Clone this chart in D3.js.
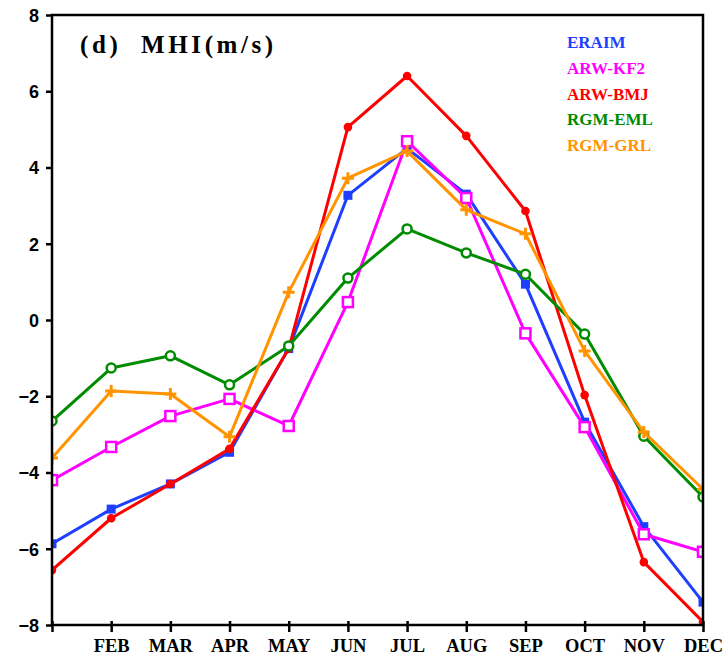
<!DOCTYPE html>
<html><head><meta charset="utf-8">
<script src="https://cdn.jsdelivr.net/npm/d3@7/dist/d3.min.js"></script>
<style>body{margin:0;background:#fff}svg{display:block}</style>
</head><body>
<svg id="chart" width="723" height="657"></svg>
<script>
const months = ["JAN","FEB","MAR","APR","MAY","JUN","JUL","AUG","SEP","OCT","NOV","DEC"];
const monthLabels = ["","FEB","MAR","APR","MAY","JUN","JUL","AUG","SEP","OCT","NOV","DEC"];
const yTicks = [-8,-6,-4,-2,0,2,4,6,8];
const seriesNames = ["ERAIM","ARW-KF2","ARW-BMJ","RGM-EML","RGM-GRL"];
const eraim  = [-5.87,-4.96,-4.30,-3.47,-0.75,3.27,4.50,3.30,0.94,-2.68,-5.42,-7.40];
const arwKF2 = [-4.20,-3.33,-2.52,-2.07,-2.78,0.47,4.69,3.20,-0.35,-2.81,-5.62,-6.08];
const arwBMJ = [-6.56,-5.20,-4.30,-3.38,-0.75,5.06,6.40,4.83,2.86,-1.97,-6.35,-7.92];
const rgmEML = [-2.65,-1.26,-0.94,-1.70,-0.68,1.10,2.39,1.76,1.20,-0.37,-3.05,-4.64];
const rgmGRL = [-3.62,-1.86,-1.94,-3.06,0.73,3.72,4.43,2.89,2.26,-0.81,-2.94,-4.44];
const colors = ["#1f3fff","#ff00ff","#ff0000","#008c00","#ff9400"];
const markers = ["fsquare","osquare","fcircle","ocircle","plus"];
const allSeries = [eraim, arwKF2, arwBMJ, rgmEML, rgmGRL];

const svg = d3.select("#chart");
const L = 52, R = 703, T = 15, B = 625;
const x = d3.scalePoint().domain(months).range([L, R]);
const y = d3.scaleLinear().domain([-8, 8]).range([B, T]);

svg.append("defs").append("clipPath").attr("id","clip")
  .append("rect").attr("x",L).attr("y",T).attr("width",R-L).attr("height",B-T);

const g = svg.append("g").attr("clip-path","url(#clip)");
const line = d3.line().x((d,i)=>x(months[i])).y(d=>y(d));

allSeries.forEach((s, k) => {
  const c = colors[k];
  g.append("path").datum(s).attr("d", line).attr("fill","none")
    .attr("stroke", c).attr("stroke-width", 3).attr("stroke-linejoin","round");
  const m = g.append("g");
  s.forEach((v, i) => {
    const cx = x(months[i]), cy = y(v);
    const t = markers[k];
    if (t === "fsquare") m.append("rect").attr("x",cx-4.5).attr("y",cy-4.5).attr("width",9).attr("height",9).attr("fill",c);
    else if (t === "osquare") m.append("rect").attr("x",cx-5).attr("y",cy-5).attr("width",10).attr("height",10).attr("fill","#fff").attr("stroke",c).attr("stroke-width",2.5);
    else if (t === "fcircle") m.append("circle").attr("cx",cx).attr("cy",cy).attr("r",4.3).attr("fill",c);
    else if (t === "ocircle") m.append("circle").attr("cx",cx).attr("cy",cy).attr("r",4.5).attr("fill","#fff").attr("stroke",c).attr("stroke-width",2.5);
    else m.append("path").attr("d",`M${cx-6},${cy}H${cx+6}M${cx},${cy-6}V${cy+6}`).attr("stroke",c).attr("stroke-width",3);
  });
});

// frame
svg.append("rect").attr("x",L).attr("y",T).attr("width",R-L).attr("height",B-T)
  .attr("fill","none").attr("stroke","#000").attr("stroke-width",2.5);

// y axis
const yAxis = d3.axisLeft(y).tickValues(yTicks).tickSize(6).tickPadding(7)
  .tickFormat(d => d < 0 ? "\u2212" + Math.abs(d) : d);
const ya = svg.append("g").attr("transform",`translate(${L},0)`).call(yAxis);
ya.select(".domain").remove();
ya.selectAll("line").attr("stroke","#000").attr("stroke-width",2.5);
ya.selectAll("text").attr("font-family","Liberation Sans, Arial, sans-serif")
  .attr("font-weight","bold").attr("font-size",18).attr("fill","#000").attr("dy","0.35em");

// x axis
const xAxis = d3.axisBottom(x).tickFormat((d,i)=>monthLabels[i]).tickSize(7).tickPadding(7);
const xa = svg.append("g").attr("transform",`translate(0,${B})`).call(xAxis);
xa.select(".domain").remove();
xa.selectAll("line").attr("stroke","#000").attr("stroke-width",2.5).attr("y1",-4);
xa.selectAll("text").attr("font-family","Liberation Serif, Times New Roman, serif")
  .attr("font-weight","bold").attr("font-size",18.5).attr("fill","#000");

// title
svg.append("text").attr("x",80).attr("y",53).text("(d)  MHI(m/s)")
  .attr("font-family","Liberation Serif, Times New Roman, serif").attr("font-weight","bold")
  .attr("font-size",25).attr("letter-spacing",3.6).attr("fill","#000")
  .style("white-space","pre");

// legend
seriesNames.forEach((n, k) => {
  svg.append("text").attr("x",567).attr("y",48 + k*25.8).text(n)
    .attr("font-family","Liberation Serif, Times New Roman, serif").attr("font-weight","bold")
    .attr("font-size",17).attr("fill",colors[k]);
});
</script>
</body></html>
